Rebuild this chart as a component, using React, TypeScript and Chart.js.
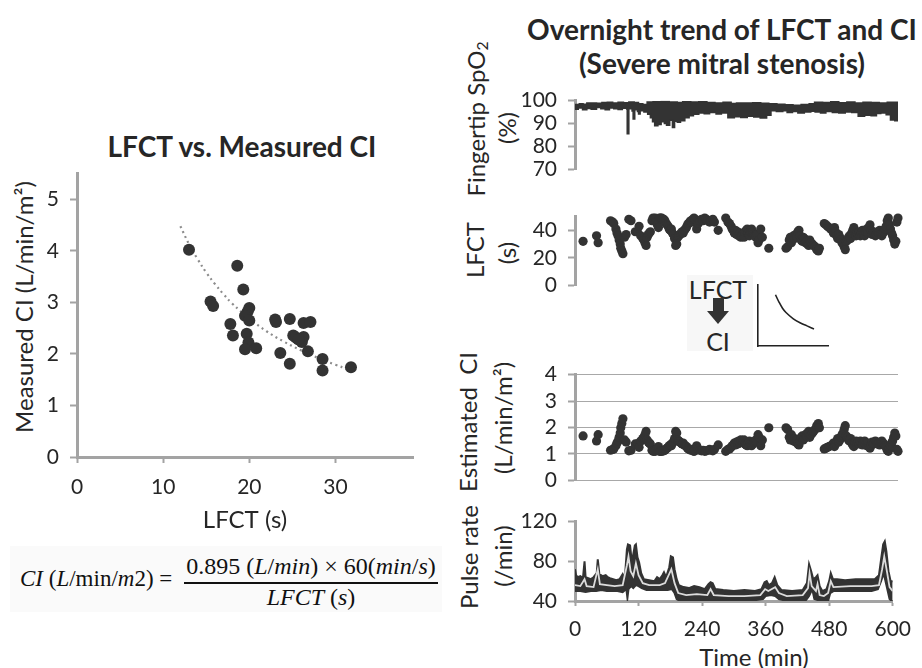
import React, { useEffect, useRef } from "react";
import { Chart, registerables } from "chart.js";

Chart.register(...registerables);

const FONT = "Lato, 'Open Sans', 'DejaVu Sans', sans-serif";
const SERIF = "'Liberation Serif', 'DejaVu Serif', serif";
const INK = "#262626";
const DOT = "#333333";
const AXIS = "#a3a3a3";

// ---------- Left panel: LFCT vs. Measured CI ----------
const scatterLfct = [13.0, 18.6, 19.3, 15.5, 15.8, 20.0, 19.8, 19.5, 20.0, 17.8, 18.1, 19.7, 19.9, 19.5, 20.8, 23.0, 23.1, 24.7, 23.6, 24.7, 25.1, 25.4, 26.3, 27.1, 26.3, 26.1, 25.7, 26.8, 28.5, 28.5, 31.8];
const scatterCi = [4.02, 3.71, 3.25, 3.02, 2.93, 2.89, 2.82, 2.74, 2.65, 2.58, 2.36, 2.39, 2.22, 2.09, 2.11, 2.67, 2.62, 2.68, 2.02, 1.81, 2.36, 2.32, 2.60, 2.62, 2.33, 2.23, 2.28, 2.05, 1.90, 1.68, 1.74];
const trendLfct = [12, 13, 14, 15, 16, 17, 18, 19, 20, 22, 24, 26, 28, 30, 31.5];
const trendCi = [4.48, 4.13, 3.84, 3.58, 3.36, 3.16, 2.98, 2.83, 2.69, 2.44, 2.24, 2.07, 1.92, 1.79, 1.70];
const scatterXTicks = [0, 10, 20, 30];
const scatterYTicks = [0, 1, 2, 3, 4, 5];

// ---------- Right panels: overnight trend ----------
const timeTicks = [0, 120, 240, 360, 480, 600];
const spo2Ticks = [70, 80, 90, 100];
const lfctTicks = [0, 20, 40];
const ciTicks = [0, 1, 2, 3, 4];
const pulseTicks = [40, 80, 120];

// SpO2 band: [time (min), %]
const spo2Upper = [[0,98.3],[8,98.6],[15,98.4],[22,98.9],[30,99.0],[40,98.8],[50,99.2],[60,99.3],[70,99.0],[80,99.3],[90,99.1],[100,99.4],[110,99.2],[118,98.6],[126,98.3],[134,99.4],[145,99.5],[160,99.6],[175,99.4],[190,99.2],[200,99.5],[215,99.4],[230,99.5],[245,99.2],[260,99.0],[275,99.3],[290,98.7],[300,99.0],[315,98.9],[330,99.1],[345,98.8],[360,98.6],[375,98.4],[390,98.2],[405,98.0],[420,98.3],[435,98.6],[445,99.3],[460,99.2],[475,99.5],[490,99.1],[505,99.4],[520,99.0],[535,99.3],[550,99.2],[565,99.0],[580,99.3],[600,98.9]];
const spo2Lower = [[0,96.2],[6,96.8],[14,96.0],[22,96.6],[30,96.2],[40,97.0],[48,96.4],[56,96.0],[64,96.8],[72,96.4],[80,96.1],[88,96.7],[96,96.3],[97,85.5],[100,96.5],[106,95.5],[108,92.0],[111,96.0],[116,95.2],[118,94.2],[121,95.6],[128,95.0],[135,94.0],[140,92.5],[144,90.8],[148,89.0],[154,89.6],[160,90.8],[166,90.0],[170,89.2],[176,91.4],[181,88.3],[185,91.0],[190,90.6],[196,91.2],[204,92.5],[212,93.4],[220,94.0],[230,94.6],[240,94.3],[250,94.8],[262,94.2],[272,94.6],[284,92.5],[296,93.0],[308,92.6],[320,93.2],[332,92.8],[344,92.4],[356,93.6],[364,95.6],[374,95.2],[386,95.6],[394,94.8],[404,95.2],[414,94.6],[426,95.0],[438,95.4],[446,95.0],[456,94.6],[466,95.2],[478,94.8],[490,94.6],[502,95.0],[514,94.8],[526,93.2],[538,93.6],[550,93.4],[560,94.4],[568,94.6],[578,93.8],[586,91.5],[594,91.2],[600,91.5]];

// LFCT: [time (min), s]
const lfctPoints = [
  [15,32],[40,36],[43,31],
  [66,47],[70,46],[72,45],[76,41],[78,38],[80,36],[82,33],[84,30],[85,27],[87,25],[89,23],[92,35],[95,37],[100,48],[104,47],
  [112,39],[116,39],[119,43],[122,36],[126,34],[128,33],[130,31],[132,29],[134,35],[136,37],[138,38],[140,39],
  [143,47],[145,49],[147,48],[149,49],[151,46],[153,44],[155,42],[157,49],[159,49],[161,49],[163,48],[165,48],[167,47],[169,45],[171,44],[173,43],[175,41],[177,40],[179,41],[181,38],[183,37],
  [185,34],[187,29],[189,30],[191,35],[193,36],[195,37],[197,38],[199,39],[201,38],[203,40],[205,41],[207,42],[209,44],[211,45],[213,46],[215,47],[217,46],[219,48],[221,49],[223,48],[226,41],[229,45],[232,47],[235,48],[238,47],[241,49],[244,48],[247,47],[250,46],[253,47],[256,48],[259,46],[266,40],
  [280,49],[284,46],[287,45],[290,43],[292,41],[294,40],[296,38],[298,40],[300,37],[302,39],[304,36],[306,38],[308,35],[310,36],[312,37],[314,35],[316,39],[318,40],[320,41],[322,38],[324,36],[326,39],[328,41],[330,39],[332,37],[334,36],[336,35],[338,37],[340,31],[342,33],[345,41],[348,35],[360,27],
  [392,27],[395,28],[398,33],[400,35],[402,31],[404,34],[406,36],[408,34],[410,37],[412,35],[414,39],[416,40],[418,36],[420,33],[422,32],[424,35],[426,34],[428,31],[430,32],[432,30],[434,29],[436,33],[438,31],[441,30],[443,29],[446,28],[449,26],[452,25],[454,27],
  [463,45],[466,44],[469,43],[472,42],[475,41],[478,40],[480,38],[482,42],[484,39],[486,36],[488,34],[490,37],[492,35],[494,33],[496,31],[498,30],[500,28],[502,26],[504,32],[506,33],[508,35],[510,36],[512,34],[514,38],[516,40],[518,42],[520,37],[522,36],[524,38],[526,37],[528,39],[530,36],[532,38],[534,40],[536,37],[538,36],[540,39],[542,41],[544,38],[546,42],[548,44],[550,40],[552,37],[554,39],[556,38],[558,36],[560,37],[562,39],[564,38],[566,40],[568,37],[570,36],[572,38],[574,39],[576,41],[578,43],[580,47],[582,49],[584,44],[586,41],[588,38],[590,36],[592,33],[594,30],[596,32],[598,46],[600,49],
];

// Estimated CI: [time (min), L/min/m2]
const ciPoints = [
  [15,1.68],[40,1.49],[43,1.73],
  [66,1.14],[70,1.17],[72,1.19],[76,1.31],[78,1.41],[80,1.49],[82,1.63],[84,1.79],[85,1.99],[87,2.15],[89,2.33],[92,1.53],[95,1.45],[100,1.12],[104,1.14],
  [112,1.38],[116,1.38],[119,1.25],[122,1.49],[126,1.58],[128,1.63],[130,1.73],[132,1.85],[134,1.53],[136,1.45],[138,1.41],[140,1.38],
  [143,1.14],[145,1.10],[147,1.12],[149,1.10],[151,1.17],[153,1.22],[155,1.28],[157,1.10],[159,1.10],[161,1.10],[163,1.12],[165,1.12],[167,1.14],[169,1.19],[171,1.22],[173,1.25],[175,1.31],[177,1.34],[179,1.31],[181,1.41],[183,1.45],
  [185,1.58],[187,1.85],[189,1.79],[191,1.53],[193,1.49],[195,1.45],[197,1.41],[199,1.38],[201,1.41],[203,1.34],[205,1.31],[207,1.28],[209,1.22],[211,1.19],[213,1.17],[215,1.14],[217,1.17],[219,1.12],[221,1.10],[223,1.12],[226,1.31],[229,1.19],[232,1.14],[235,1.12],[238,1.14],[241,1.10],[244,1.12],[247,1.14],[250,1.17],[253,1.14],[256,1.12],[259,1.17],[266,1.34],
  [280,1.10],[284,1.17],[287,1.19],[290,1.25],[292,1.31],[294,1.34],[296,1.41],[298,1.34],[300,1.45],[302,1.38],[304,1.49],[306,1.41],[308,1.53],[310,1.49],[312,1.45],[314,1.53],[316,1.38],[318,1.34],[320,1.31],[322,1.41],[324,1.49],[326,1.38],[328,1.31],[330,1.38],[332,1.45],[334,1.49],[336,1.53],[338,1.45],[340,1.73],[342,1.63],[345,1.31],[348,1.53],[360,1.99],
  [392,1.99],[395,1.92],[398,1.63],[400,1.53],[402,1.73],[404,1.58],[406,1.49],[408,1.58],[410,1.45],[412,1.53],[414,1.38],[416,1.34],[418,1.49],[420,1.63],[422,1.68],[424,1.53],[426,1.58],[428,1.73],[430,1.68],[432,1.79],[434,1.85],[436,1.63],[438,1.73],[441,1.79],[443,1.85],[446,1.92],[449,2.07],[452,2.15],[454,1.99],
  [463,1.19],[466,1.22],[469,1.25],[472,1.28],[475,1.31],[478,1.34],[480,1.41],[482,1.28],[484,1.38],[486,1.49],[488,1.58],[490,1.45],[492,1.53],[494,1.63],[496,1.73],[498,1.79],[500,1.92],[502,2.07],[504,1.68],[506,1.63],[508,1.53],[510,1.49],[512,1.58],[514,1.41],[516,1.34],[518,1.28],[520,1.45],[522,1.49],[524,1.41],[526,1.45],[528,1.38],[530,1.49],[532,1.41],[534,1.34],[536,1.45],[538,1.49],[540,1.38],[542,1.31],[544,1.41],[546,1.28],[548,1.22],[550,1.34],[552,1.45],[554,1.38],[556,1.41],[558,1.49],[560,1.45],[562,1.38],[564,1.41],[566,1.34],[568,1.45],[570,1.49],[572,1.41],[574,1.38],[576,1.31],[578,1.25],[580,1.14],[582,1.10],[584,1.22],[586,1.31],[588,1.41],[590,1.49],[592,1.63],[594,1.79],[596,1.68],[598,1.17],[600,1.10],
];

// Pulse rate band and median: [time (min), /min]
const pulseUpper = [[0,72],[2,66],[5,64],[10,65],[15,63],[18,80],[20,64],[25,63],[30,62],[35,64],[41,68],[43,82],[46,67],[52,65],[58,66],[62,64],[66,63],[72,62],[78,61],[84,62],[90,67],[94,62],[98,92],[100,97],[104,96],[106,86],[109,84],[113,96],[115,97],[118,84],[121,79],[125,68],[130,62],[140,61],[150,60],[155,64],[160,62],[165,66],[168,69],[172,64],[178,74],[181,85],[185,84],[188,72],[192,62],[196,56],[205,54],[215,53],[225,55],[235,54],[245,52],[252,57],[256,59],[260,58],[265,52],[280,51],[300,50],[320,51],[340,50],[352,52],[358,59],[362,60],[366,56],[372,58],[377,64],[382,56],[390,51],[410,50],[430,51],[438,58],[442,77],[446,70],[450,62],[455,64],[458,66],[462,55],[467,50],[475,52],[480,60],[483,68],[487,62],[495,62],[510,61],[530,62],[550,62],[566,62],[574,66],[578,82],[582,97],[585,100],[588,90],[592,70],[596,60],[600,60]];
const pulseLower = [[0,50],[10,50],[20,49],[30,50],[40,50],[50,51],[60,50],[70,50],[80,50],[90,49],[97,52],[99,43],[101,52],[106,55],[110,53],[115,56],[120,55],[126,53],[135,51],[150,51],[165,51],[175,51],[183,52],[188,48],[192,42],[198,40],[220,40],[240,40],[260,41],[280,40],[300,40],[330,40],[355,42],[360,45],[370,46],[378,45],[385,42],[400,40],[420,40],[435,40],[442,45],[448,52],[452,42],[458,41],[465,40],[478,40],[482,48],[488,50],[520,50],[560,50],[572,52],[578,60],[583,68],[588,56],[594,42],[600,39]];
const pulseMid = [[0,56],[10,55],[18,62],[22,55],[35,54],[43,72],[47,57],[60,56],[75,55],[90,56],[98,76],[101,85],[105,70],[110,65],[115,78],[120,66],[128,58],[140,56],[160,56],[170,58],[182,72],[188,58],[195,48],[210,46],[230,47],[250,46],[256,52],[262,46],[290,45],[320,45],[350,46],[359,52],[365,50],[378,54],[385,48],[400,45],[430,46],[440,53],[443,68],[447,55],[455,50],[458,57],[462,46],[470,45],[478,48],[483,60],[488,54],[520,55],[560,55],[574,56],[580,72],[584,85],[589,70],[594,54],[600,50]];

// Inset schematic curve (LFCT -> CI)
const insetX = [25, 30, 35, 40, 50, 60, 70, 80];
const insetY = [84, 72, 62, 55, 45, 38, 33, 28];

const xy = (arr: number[][]) => arr.map(([x, y]) => ({ x, y }));

function baseOptions(padding: any) {
  return {
    responsive: false,
    animation: false as const,
    devicePixelRatio: 1,
    events: [] as any[],
    layout: { padding },
    plugins: { legend: { display: false }, tooltip: { enabled: false }, title: { display: false } },
  };
}

function yScale(o: { min: number; max: number; ticks: number[]; width: number; gridOnArea?: boolean; size?: number }) {
  return {
    type: "linear",
    position: "left",
    min: o.min,
    max: o.max,
    afterFit: (s: any) => { s.width = o.width; },
    afterBuildTicks: (s: any) => { s.ticks = o.ticks.map((v) => ({ value: v })); },
    border: { display: true, color: AXIS, width: 3 },
    grid: { display: true, drawOnChartArea: !!o.gridOnArea, drawTicks: true, tickLength: 7, tickWidth: 2, tickColor: AXIS, color: "#a8a8a8", lineWidth: 1 },
    ticks: { color: INK, font: { family: FONT, size: o.size ?? 21 }, padding: 11, autoSkip: false },
    title: { display: false },
  };
}

const hiddenX = { type: "linear", min: 0, max: 600, display: false };

function ChartCanvas(props: { left: number; top: number; width: number; height: number; config: () => any }) {
  const ref = useRef<HTMLCanvasElement>(null);
  useEffect(() => {
    const chart = new Chart(ref.current as HTMLCanvasElement, props.config());
    return () => chart.destroy();
  }, []);
  return (
    <canvas
      ref={ref}
      width={props.width}
      height={props.height}
      style={{ position: "absolute", left: props.left, top: props.top, width: props.width, height: props.height }}
    />
  );
}

const scatterConfig = () => ({
  type: "scatter",
  data: {
    datasets: [
      {
        data: scatterLfct.map((x, i) => ({ x, y: scatterCi[i] })),
        pointRadius: 6,
        backgroundColor: DOT,
        borderWidth: 0,
        clip: false,
      },
      {
        type: "line",
        data: trendLfct.map((x, i) => ({ x, y: trendCi[i] })),
        borderColor: "#8c8c8c",
        borderWidth: 2.2,
        borderDash: [2, 3.5],
        pointRadius: 0,
        tension: 0.4,
        fill: false,
      },
    ],
  },
  options: {
    ...baseOptions({ left: 0, top: 22, right: 17, bottom: 0 }),
    scales: {
      x: {
        type: "linear",
        position: "bottom",
        min: 0,
        max: 39,
        afterFit: (s: any) => { s.height = 83; },
        afterBuildTicks: (s: any) => { s.ticks = scatterXTicks.map((v) => ({ value: v })); },
        border: { display: true, color: AXIS, width: 3 },
        grid: { display: true, drawOnChartArea: false, tickLength: 6, tickWidth: 2, tickColor: AXIS },
        ticks: { color: INK, font: { family: FONT, size: 21 }, padding: 12, maxRotation: 0, autoSkip: false },
        title: { display: true, text: "LFCT (s)", color: INK, font: { family: FONT, size: 24, lineHeight: 1.2 }, padding: { top: 0, bottom: 5 } },
      },
      y: yScale({ min: 0, max: 5.5, ticks: scatterYTicks, width: 77 }),
    },
  },
});

const spo2Config = () => ({
  type: "line",
  data: {
    datasets: [
      { data: xy(spo2Upper), borderColor: DOT, borderWidth: 1.5, pointRadius: 0, stepped: true, fill: false },
      { data: xy(spo2Lower), borderColor: DOT, borderWidth: 1.5, pointRadius: 0, stepped: true, fill: "-1", backgroundColor: DOT },
    ],
  },
  options: {
    ...baseOptions({ left: 0, top: 15, right: 24, bottom: 15 }),
    scales: { x: hiddenX, y: yScale({ min: 70, max: 100, ticks: spo2Ticks, width: 115 }) },
  },
});

const lfctConfig = () => ({
  type: "scatter",
  data: { datasets: [{ data: xy(lfctPoints), pointRadius: 4.6, backgroundColor: DOT, borderWidth: 0, clip: false }] },
  options: {
    ...baseOptions({ left: 0, top: 15, right: 24, bottom: 15 }),
    scales: { x: hiddenX, y: yScale({ min: 0, max: 50, ticks: lfctTicks, width: 115 }) },
  },
});

const ciConfig = () => ({
  type: "scatter",
  data: { datasets: [{ data: xy(ciPoints), pointRadius: 4.6, backgroundColor: DOT, borderWidth: 0, clip: false }] },
  options: {
    ...baseOptions({ left: 0, top: 15, right: 24, bottom: 15 }),
    scales: { x: hiddenX, y: yScale({ min: 0, max: 4, ticks: ciTicks, width: 115, gridOnArea: true }) },
  },
});

const pulseConfig = () => ({
  type: "line",
  data: {
    datasets: [
      { data: xy(pulseUpper), borderColor: DOT, borderWidth: 2, pointRadius: 0, fill: false, order: 2 },
      { data: xy(pulseLower), borderColor: DOT, borderWidth: 2, pointRadius: 0, fill: "-1", backgroundColor: DOT, order: 2 },
      { data: xy(pulseMid), borderColor: "#dcdcdc", borderWidth: 1.8, pointRadius: 0, fill: false, order: 1 },
    ],
  },
  options: {
    ...baseOptions({ left: 0, top: 15, right: 24, bottom: 0 }),
    scales: {
      x: {
        type: "linear",
        position: "bottom",
        min: 0,
        max: 600,
        afterFit: (s: any) => { s.height = 67; },
        afterBuildTicks: (s: any) => { s.ticks = timeTicks.map((v) => ({ value: v })); },
        border: { display: true, color: AXIS, width: 3 },
        grid: { display: true, drawOnChartArea: false, tickLength: 5, tickWidth: 2, tickColor: AXIS },
        ticks: { color: INK, font: { family: FONT, size: 21 }, padding: 11, maxRotation: 0, autoSkip: false },
        title: { display: false },
      },
      y: yScale({ min: 40, max: 120, ticks: pulseTicks, width: 115 }),
    },
  },
});

const insetConfig = () => ({
  type: "line",
  data: {
    datasets: [
      { data: insetX.map((x, i) => ({ x, y: insetY[i] })), borderColor: "#222", borderWidth: 1.6, pointRadius: 0, tension: 0.4, fill: false },
    ],
  },
  options: {
    ...baseOptions({ left: 3, top: 3, right: 5, bottom: 4 }),
    scales: {
      x: {
        type: "linear", min: 0, max: 100,
        afterFit: (s: any) => { s.height = 0; },
        border: { display: true, color: "#222", width: 1.6 },
        grid: { display: false },
        ticks: { display: false },
      },
      y: {
        type: "linear", min: 0, max: 100,
        afterFit: (s: any) => { s.width = 0; },
        border: { display: true, color: "#222", width: 1.6 },
        grid: { display: false },
        ticks: { display: false },
      },
    },
  },
});

const txt = (style: any) => ({ position: "absolute" as const, whiteSpace: "nowrap" as const, color: INK, ...style });

function VText(props: { cx: number; cy: number; size: number; children: any }) {
  return (
    <div
      style={txt({
        left: props.cx - 150,
        top: props.cy - 15,
        width: 300,
        height: 30,
        lineHeight: "30px",
        textAlign: "center",
        transform: "rotate(-90deg)",
        font: `${props.size}px ${FONT}`,
      })}
    >
      {props.children}
    </div>
  );
}

const sub = { fontSize: "0.65em", verticalAlign: "-0.2em" };

export default function App() {
  return (
    <div style={{ position: "absolute", left: 0, top: 0, width: 922, height: 668, background: "#fff", overflow: "hidden" }}>
      {/* titles */}
      <div style={txt({ left: 0, width: 484, top: 129, height: 32, lineHeight: "32px", textAlign: "center", font: `bold 28px ${FONT}` })}>
        LFCT vs. Measured CI
      </div>
      <div style={txt({ left: 522, width: 400, top: 12, height: 32, lineHeight: "32px", textAlign: "center", font: `bold 28px ${FONT}` })}>
        Overnight trend of LFCT and CI
      </div>
      <div style={txt({ left: 522, width: 400, top: 46, height: 32, lineHeight: "32px", textAlign: "center", font: `bold 28px ${FONT}` })}>
        (Severe mitral stenosis)
      </div>

      {/* axis titles */}
      <VText cx={24} cy={307} size={24}>Measured CI (L/min/m²)</VText>
      <VText cx={476} cy={119} size={24}>Fingertip SpO<span style={sub}>2</span></VText>
      <VText cx={507} cy={128} size={24}>(%)</VText>
      <VText cx={475} cy={250} size={24}>LFCT</VText>
      <VText cx={507} cy={253} size={24}>(s)</VText>
      <VText cx={468} cy={422} size={24}>Estimated&nbsp; CI</VText>
      <VText cx={503} cy={418} size={24}>(L/min/m²)</VText>
      <VText cx={469} cy={557} size={24}>Pulse rate</VText>
      <VText cx={503} cy={556} size={24}>(/min)</VText>
      <div style={txt({ left: 654, width: 200, top: 642, height: 30, lineHeight: "30px", textAlign: "center", font: `24px ${FONT}` })}>
        Time (min)
      </div>

      {/* formula */}
      <div style={{ position: "absolute", left: 10, top: 546, width: 432, height: 66, background: "#fafafa" }} />
      <div style={txt({ left: 20, top: 566, height: 28, lineHeight: "28px", font: `23px ${SERIF}`, color: "#111" })}>
        <i>CI</i> (<i>L</i>/min/<i>m</i>2) =
      </div>
      <div style={txt({ left: 182, width: 258, top: 553, height: 28, lineHeight: "28px", textAlign: "center", font: `24px ${SERIF}`, color: "#111" })}>
        0.895 (<i>L</i>/<i>min</i>) × 60(<i>min</i>/<i>s</i>)
      </div>
      <div style={{ position: "absolute", left: 184, top: 582, width: 254, height: 1.5, background: "#111" }} />
      <div style={txt({ left: 182, width: 258, top: 584, height: 28, lineHeight: "28px", textAlign: "center", font: `24px ${SERIF}`, color: "#111" })}>
        <i>LFCT</i> (<i>s</i>)
      </div>

      {/* inset */}
      <div style={{ position: "absolute", left: 687, top: 275, width: 66, height: 76, background: "#f7f7f7" }} />
      <div style={txt({ left: 678, width: 80, top: 274, height: 28, lineHeight: "28px", textAlign: "center", font: `25px ${FONT}` })}>LFCT</div>
      <div style={{ position: "absolute", left: 713, top: 298, width: 11, height: 14, background: DOT }} />
      <div style={{ position: "absolute", left: 707, top: 311, width: 0, height: 0, borderLeft: "11px solid transparent", borderRight: "11px solid transparent", borderTop: `13px solid ${DOT}` }} />
      <div style={txt({ left: 678, width: 80, top: 326, height: 28, lineHeight: "28px", textAlign: "center", font: `25px ${FONT}` })}>CI</div>
      <ChartCanvas left={755} top={282} width={78} height={68} config={insetConfig} />

      {/* charts */}
      <ChartCanvas left={0} top={150} width={430} height={390} config={scatterConfig} />
      <ChartCanvas left={460} top={77} width={462} height={116} config={spo2Config} />
      <ChartCanvas left={460} top={193} width={462} height={116} config={lfctConfig} />
      <ChartCanvas left={460} top={351} width={462} height={153} config={ciConfig} />
      <ChartCanvas left={460} top={498} width={462} height={170} config={pulseConfig} />
    </div>
  );
}
